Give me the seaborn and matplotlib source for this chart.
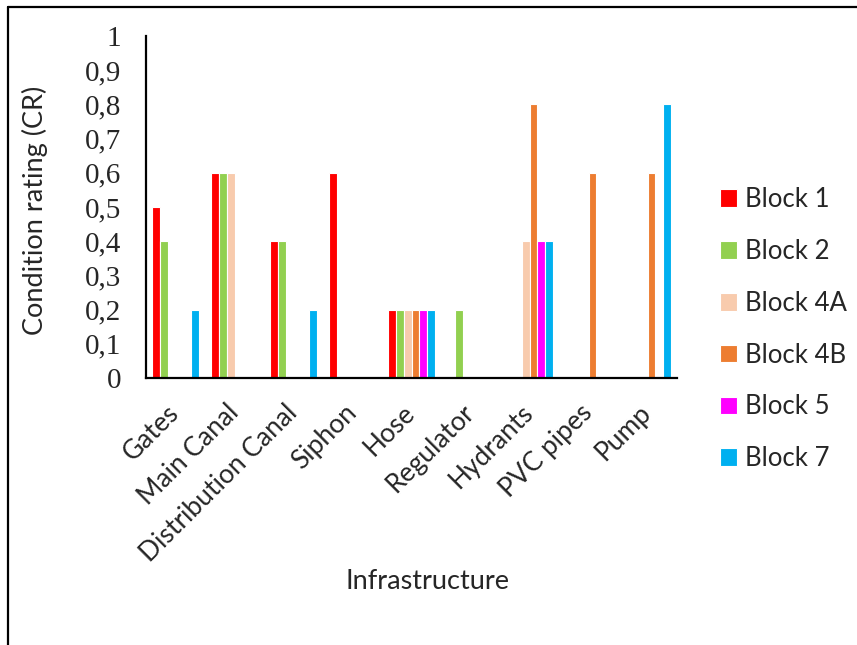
import matplotlib
matplotlib.use("Agg")
import matplotlib.pyplot as plt
from matplotlib.lines import Line2D
from matplotlib.ticker import FixedLocator, FuncFormatter
import pandas as pd
import seaborn as sns

# Infrastructure components and condition ratings per irrigation block
infrastructure = ["Gates", "Main Canal", "Distribution Canal", "Siphon", "Hose",
                  "Regulator", "Hydrants", "PVC pipes", "Pump"]
blocks = ["Block 1", "Block 2", "Block 4A", "Block 4B", "Block 5", "Block 7"]
block_1 = [0.5, 0.6, 0.4, 0.6, 0.2, 0.0, 0.0, 0.0, 0.0]
block_2 = [0.4, 0.6, 0.4, 0.0, 0.2, 0.2, 0.0, 0.0, 0.0]
block_4a = [0.0, 0.6, 0.0, 0.0, 0.2, 0.0, 0.4, 0.0, 0.0]
block_4b = [0.0, 0.0, 0.0, 0.0, 0.2, 0.0, 0.8, 0.6, 0.6]
block_5 = [0.0, 0.0, 0.0, 0.0, 0.2, 0.0, 0.4, 0.0, 0.0]
block_7 = [0.2, 0.0, 0.2, 0.0, 0.2, 0.0, 0.4, 0.0, 0.8]
colors = ["#FF0000", "#92D050", "#F8CBAD", "#ED7D31", "#FF00FF", "#00B0F0"]
y_ticks = [0, 0.1, 0.2, 0.3, 0.4, 0.5, 0.6, 0.7, 0.8, 0.9, 1.0]

series = [block_1, block_2, block_4a, block_4b, block_5, block_7]
rows = []
for name, values in zip(blocks, series):
    for item, v in zip(infrastructure, values):
        rows.append({"Infrastructure": item, "Block": name, "CR": v})
df = pd.DataFrame(rows)

sns.set_style("white")
plt.rcParams["font.family"] = ["Lato", "DejaVu Sans"]

fig = plt.figure(figsize=(8.57, 6.45), dpi=100)
ax = fig.add_axes([146 / 857, 1 - 378 / 645, 531 / 857, 342 / 645])

sns.barplot(data=df, x="Infrastructure", y="CR", hue="Block",
            order=infrastructure, hue_order=blocks, palette=colors,
            width=0.8, edgecolor="white", linewidth=0.8, saturation=1,
            errorbar=None, ax=ax)

ax.set_ylim(0, 1)
ax.set_xlim(-0.5, len(infrastructure) - 0.5)
ax.yaxis.set_major_locator(FixedLocator(y_ticks))
ax.yaxis.set_major_formatter(FuncFormatter(
    lambda v, _: "0" if abs(v) < 1e-9 else ("1" if abs(v - 1) < 1e-9 else f"{v:.1f}".replace(".", ","))))
ax.tick_params(axis="y", length=0, pad=18, labelsize=21)
for lab in ax.get_yticklabels():
    lab.set_fontfamily(["Liberation Serif", "DejaVu Serif"])

ax.set_xticks(range(len(infrastructure)))
ax.set_xticklabels(infrastructure, rotation=45, ha="right",
                   rotation_mode="anchor", va="center", fontsize=19)
ax.tick_params(axis="x", length=0, pad=22)

for side in ("top", "right"):
    ax.spines[side].set_visible(False)
for side in ("left", "bottom"):
    ax.spines[side].set_color("black")
    ax.spines[side].set_linewidth(1.6)

ax.set_ylabel("Condition rating (CR)", fontsize=19.5)
ax.yaxis.set_label_coords(-0.209, 0.49)
ax.set_xlabel("Infrastructure", fontsize=19.5)
ax.xaxis.set_label_coords(0.53, -0.595)
ax.xaxis.label.set_va("center")
ax.yaxis.label.set_va("center")

handles, labels = ax.get_legend_handles_labels()
ax.legend(handles, labels, loc="upper left",
          bbox_to_anchor=(720 / 857, 1 - 187 / 645), bbox_transform=fig.transFigure,
          frameon=False, fontsize=18.5, borderpad=0, borderaxespad=0,
          handlelength=0.68, handleheight=0.68, handletextpad=0.3,
          labelspacing=1.045)

# page frame lines along the top and left edges
fig.add_artist(Line2D([8 / 857, 1.0], [1 - 7 / 645, 1 - 7 / 645],
                      transform=fig.transFigure, color="black", linewidth=1.6))
fig.add_artist(Line2D([8 / 857, 8 / 857], [0, 1 - 7 / 645],
                      transform=fig.transFigure, color="black", linewidth=1.6))

fig.savefig("out.png", dpi=100, facecolor="white")
